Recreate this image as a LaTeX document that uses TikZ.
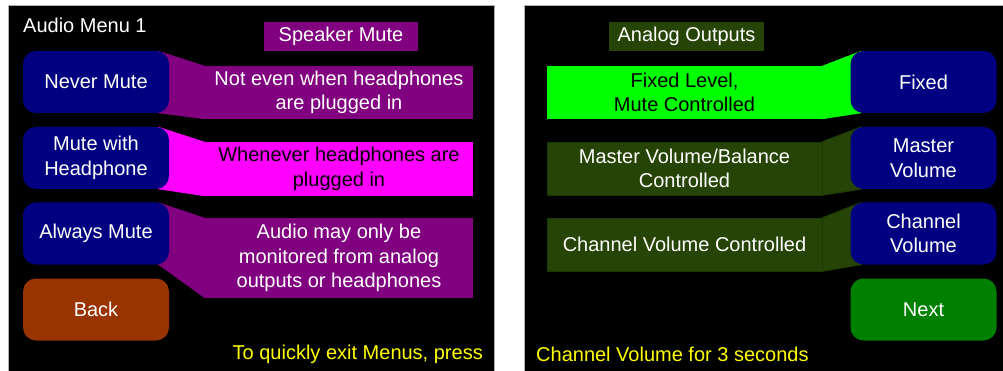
\documentclass[tikz,border=0pt]{standalone}
\usepackage{fontspec}
\setmainfont{Liberation Sans}
\usetikzlibrary{calc}
\definecolor{navybtn}{HTML}{000080}
\definecolor{purplebox}{HTML}{800080}
\definecolor{magentabox}{HTML}{FF00FF}
\definecolor{brownbtn}{HTML}{993300}
\definecolor{limebox}{HTML}{00FF00}
\definecolor{olivebox}{HTML}{264406}
\definecolor{oliveedge}{HTML}{1B3A03}
\definecolor{nextgreen}{HTML}{008000}
\definecolor{hintyellow}{HTML}{FFFF00}
\definecolor{panelrim}{HTML}{B0B0B0}
\pgfdeclarelayer{panel}
\pgfdeclarelayer{slant}
\pgfsetlayers{panel,slant,main}
\tikzset{
  txt/.style={font=\fontsize{20}{24.5}\selectfont, align=center, inner sep=0pt},
  btn/.style={txt, rounded corners=13pt, minimum width=146pt, minimum height=62pt, text=white},
  callout/.style={txt, minimum width=268pt},
  outbox/.style={txt, minimum width=275pt, minimum height=53pt},
  tag/.style={txt, minimum height=29pt},
}
\begin{document}
\begin{tikzpicture}[x=1pt,y=-1pt]
\useasboundingbox (0,0) rectangle (1003,371);

% the two screens on a white sheet
\begin{pgfonlayer}{panel}
  \fill[white] (0,0) rectangle (1003,371);
  \filldraw[fill=black, draw=panelrim, line width=0.8pt] (8,5) rectangle (494.5,372);
  \filldraw[fill=black, draw=panelrim, line width=0.8pt] (524,5) rectangle (1004,372);
\end{pgfonlayer}

% ---- left screen: speaker mute ----
\node[txt, text=white, anchor=west] (title) at (23,25) {Audio Menu 1};
\node[tag, fill=purplebox, text=white, minimum width=154pt] (spk) at (341,36.5) {Speaker Mute};

\node[btn, fill=navybtn] (never) at (96,82) {Never Mute};
\node[btn, fill=navybtn] (hp) at (96,158) {Mute with\\Headphone};
\node[btn, fill=navybtn] (always) at (96,233.5) {Always Mute};
\node[btn, fill=brownbtn] (back) at (96,309.5) {Back};

\node[callout, fill=purplebox, text=white, minimum height=53pt] (neverinfo) at (339,92.5)
  {Not even when headphones\\are plugged in};
\node[callout, fill=magentabox, text=black, minimum height=54pt] (hpinfo) at (339,169)
  {Whenever headphones are\\plugged in};
\node[callout, fill=purplebox, text=white, minimum height=80pt] (alwaysinfo) at (339,258)
  {Audio may only be\\monitored from analog\\outputs or headphones};

\begin{pgfonlayer}{slant}
  \fill[purplebox] ($(never.north east)+(-11,0)$) -- (neverinfo.north west)
    -- (neverinfo.south west) -- ($(never.south east)+(-11,0)$) -- cycle;
  \fill[magentabox] ($(hp.north east)+(-11,0)$) -- (hpinfo.north west)
    -- (hpinfo.south west) -- ($(hp.south east)+(-11,0)$) -- cycle;
  \fill[purplebox] ($(always.north east)+(-11,0)$) -- (alwaysinfo.north west)
    -- (alwaysinfo.south west) -- ($(always.south east)+(-11,0)$) -- cycle;
\end{pgfonlayer}

\node[txt, text=hintyellow, anchor=east] (hint1) at (483,354) {To quickly exit Menus, press};

% ---- right screen: analog outputs ----
\node[tag, fill=olivebox, text=white, minimum width=155pt] (ana) at (686.5,36.5) {Analog Outputs};

\node[btn, fill=navybtn] (fixed) at (923.5,82) {Fixed};
\node[btn, fill=navybtn] (master) at (923.5,158) {Master\\Volume};
\node[btn, fill=navybtn] (chan) at (923.5,233.5) {Channel\\Volume};
\node[btn, fill=nextgreen] (next) at (923.5,309.5) {Next};

\node[outbox, fill=limebox, text=black] (fixedinfo) at (684.5,92.5)
  {Fixed Level,\\Mute Controlled};
\node[outbox, fill=olivebox, draw=oliveedge, line width=0.8pt, text=white] (masterinfo) at (684.5,168.5)
  {Master Volume/Balance\\Controlled};
\node[outbox, fill=olivebox, draw=oliveedge, line width=0.8pt, text=white] (chaninfo) at (684.5,244.5)
  {Channel Volume Controlled};

\begin{pgfonlayer}{slant}
  \fill[limebox] (fixedinfo.north east) -- ($(fixed.north west)+(11,0)$)
    -- ($(fixed.south west)+(11,0)$) -- (fixedinfo.south east) -- cycle;
  \filldraw[fill=olivebox, draw=oliveedge, line width=0.8pt] (masterinfo.north east) -- ($(master.north west)+(11,0)$)
    -- ($(master.south west)+(11,0)$) -- (masterinfo.south east) -- cycle;
  \filldraw[fill=olivebox, draw=oliveedge, line width=0.8pt] (chaninfo.north east) -- ($(chan.north west)+(11,0)$)
    -- ($(chan.south west)+(11,0)$) -- (chaninfo.south east) -- cycle;
\end{pgfonlayer}

\node[txt, text=hintyellow, anchor=west] (hint2) at (536,354) {Channel Volume for 3 seconds};
\end{tikzpicture}
\end{document}
